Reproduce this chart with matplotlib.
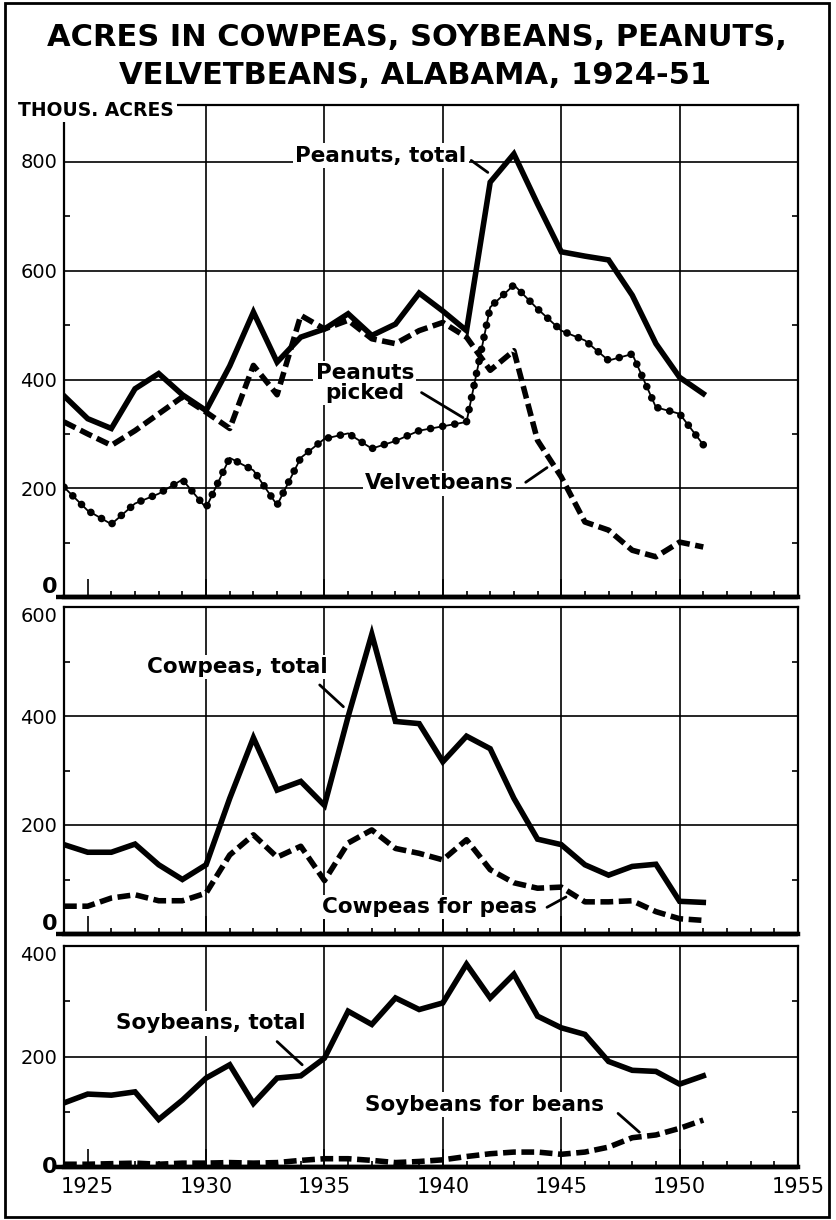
import matplotlib
matplotlib.use("Agg")
import matplotlib.pyplot as plt
from matplotlib.patches import Rectangle

plt.rcParams['font.family'] = ['DejaVu Sans']

years = list(range(1924, 1952))

# top panel
peanuts_total = [370, 328, 310, 383, 411, 372, 343, 425, 524, 432, 478, 493, 521, 481,
                 502, 559, 526, 490, 763, 815, 723, 635, 627, 620, 555, 466, 404, 374]
velvetbeans = [322, 300, 279, 306, 337, 368, 340, 310, 426, 372, 518, 493, 509, 475,
               466, 490, 505, 478, 417, 453, 288, 221, 138, 123, 86, 74, 101, 92]
peanuts_picked = [202, 159, 134, 172, 190, 216, 164, 256, 233, 169, 256, 291, 301, 273,
                  287, 306, 314, 322, 533, 574, 530, 490, 472, 435, 447, 349, 337, 280]

# middle panel
cowpeas_total = [164, 150, 150, 165, 127, 100, 127, 249, 360, 264, 280, 236, 399, 550,
                 390, 386, 316, 363, 340, 249, 174, 164, 127, 108, 124, 128, 60, 58]
cowpeas_peas = [51, 51, 66, 72, 61, 61, 75, 145, 182, 141, 161, 98, 167, 191,
                157, 148, 136, 173, 118, 94, 84, 86, 59, 59, 61, 41, 28, 25]

# bottom panel
soy_total = [116, 132, 130, 136, 86, 121, 161, 185, 115, 161, 165, 197, 282, 258,
             306, 285, 297, 367, 306, 349, 273, 252, 240, 191, 175, 173, 150, 165]
soy_beans = [5, 5, 6, 7, 5, 7, 7, 8, 7, 8, 12, 15, 15, 12,
             8, 10, 13, 19, 24, 27, 27, 23, 27, 36, 53, 58, 70, 85]

year_labels = ['1925', '1930', '1935', '1940', '1945', '1950', '1955']

fig = plt.figure(figsize=(8.36, 12.2), dpi=100)

W, H = 836, 1220
def box(left, top, right, bottom):
    return [left / W, 1 - bottom / H, (right - left) / W, (bottom - top) / H]

ax1 = fig.add_axes(box(64, 105, 798, 597))
ax2 = fig.add_axes(box(64, 607, 798, 934))
ax3 = fig.add_axes(box(64, 946, 798, 1167))

# (axes, y top, gridline values, minor ticks, va of "0", va of top label)
panels = [(ax1, 905, [200, 400, 600, 800], [100, 300, 500, 700], 'bottom', 'center'),
          (ax2, 600, [200, 400, 600], [100, 300, 500], 'bottom', 'top'),
          (ax3, 400, [200, 400], [100, 300], 'center', 'top')]

for ax, top, majors, minors, va0, vatop in panels:
    ax.set_xlim(1924, 1955)
    ax.set_ylim(0, top)
    for s in ['left', 'right', 'top']:
        ax.spines[s].set_linewidth(1.6)
    ax.spines['bottom'].set_linewidth(3.2)
    ax.plot([-0.011, 1], [0, 0], transform=ax.transAxes, color='black', lw=3.2,
            clip_on=False, solid_capstyle='butt')
    for yr in [1930, 1935, 1940, 1945, 1950]:
        ax.axvline(yr, color='black', lw=1.2, zorder=1)
    for v in majors:
        if v < top:
            ax.axhline(v, color='black', lw=1.2, zorder=1)
    ax.set_xticks(range(1925, 1956, 5))
    ax.set_xticks(years + [1952, 1953, 1954], minor=True)
    ax.set_yticks([0] + majors)
    ax.set_yticks(minors, minor=True)
    ax.tick_params(axis='x', which='major', direction='in', length=13, width=1.2)
    ax.tick_params(axis='x', which='minor', direction='in', length=4, width=1.2)
    ax.tick_params(axis='y', which='major', length=0, pad=5, labelsize=14)
    ax.tick_params(axis='y', which='minor', direction='in', length=4, width=1.2,
                   left=True, right=True)
    ax.set_yticklabels(['0'] + [str(v) for v in majors])
    labs = ax.get_yticklabels()
    labs[0].set_fontweight('bold')
    labs[0].set_fontsize(16)
    labs[0].set_va(va0)
    labs[-1].set_va(vatop)
    if ax is not ax3:
        ax.set_xticklabels([])
    else:
        ax.set_xticklabels(year_labels, fontsize=15)
        ax.tick_params(axis='x', which='major', pad=7)

solid = dict(color='black', lw=4, solid_joinstyle='miter', zorder=3)
dashed = dict(color='black', lw=4, linestyle=(0, (2.3, 1.0)), dash_capstyle='butt', zorder=3)

ax1.plot(years, peanuts_total, **solid)
ax1.plot(years, velvetbeans, **dashed)
ax1.plot(years, peanuts_picked, color='black', lw=1.3, zorder=3)
ax1.plot(years, peanuts_picked, color='black', lw=5.5, linestyle=(0, (0.01, 1.6)),
         dash_capstyle='round', zorder=3)

ax2.plot(years, cowpeas_total, **solid)
ax2.plot(years, cowpeas_peas, **dashed)

ax3.plot(years, soy_total, **solid)
ax3.plot(years, soy_beans, **dashed)

lbl = dict(fontsize=15.5, fontweight='bold', va='center', zorder=4,
           bbox=dict(facecolor='white', edgecolor='none', pad=1.5))
lead = dict(arrowstyle='-', lw=2, color='black', shrinkA=0, shrinkB=0)

ax1.text(1941.0, 812, 'Peanuts, total', ha='right', **lbl)
ax1.annotate('', xy=(1941.9, 781), xytext=(1941.2, 803), arrowprops=lead)
ax1.text(1936.7, 393, 'Peanuts\npicked', ha='center', linespacing=1.0, **lbl)
ax1.annotate('', xy=(1940.85, 330), xytext=(1939.1, 376), arrowprops=lead)
ax1.text(1936.7, 209, 'Velvetbeans', ha='left', **lbl)
ax1.annotate('', xy=(1944.4, 238), xytext=(1943.5, 211), arrowprops=lead)

ax2.text(1927.5, 490, 'Cowpeas, total', ha='left', **lbl)
ax2.annotate('', xy=(1935.8, 417), xytext=(1934.8, 457), arrowprops=lead)
ax2.text(1934.9, 50, 'Cowpeas for peas', ha='left', **lbl)
ax2.annotate('', xy=(1945.2, 68), xytext=(1944.4, 49), arrowprops=lead)

ax3.text(1926.2, 260, 'Soybeans, total', ha='left', **lbl)
ax3.annotate('', xy=(1934.06, 185), xytext=(1933.0, 227), arrowprops=lead)
ax3.text(1936.7, 113, 'Soybeans for beans', ha='left', **lbl)
ax3.annotate('', xy=(1948.3, 63), xytext=(1947.4, 97), arrowprops=lead)

fig.text(18 / W, 1 - 110 / H, 'THOUS. ACRES', fontsize=13.5, fontweight='bold',
         ha='left', va='center', zorder=5,
         bbox=dict(facecolor='white', edgecolor='none', pad=2))

fig.text(417 / W, 1 - 38 / H, 'ACRES IN COWPEAS, SOYBEANS, PEANUTS,',
         fontsize=22, fontweight='bold', ha='center', va='center')
fig.text(415 / W, 1 - 75 / H, 'VELVETBEANS, ALABAMA, 1924-51',
         fontsize=22, fontweight='bold', ha='center', va='center')

fig.add_artist(Rectangle((5 / W, 1 - 1217 / H), 824 / W, 1214 / H, transform=fig.transFigure,
                         fill=False, lw=2, edgecolor='black'))

fig.savefig('out.png', dpi=100)
